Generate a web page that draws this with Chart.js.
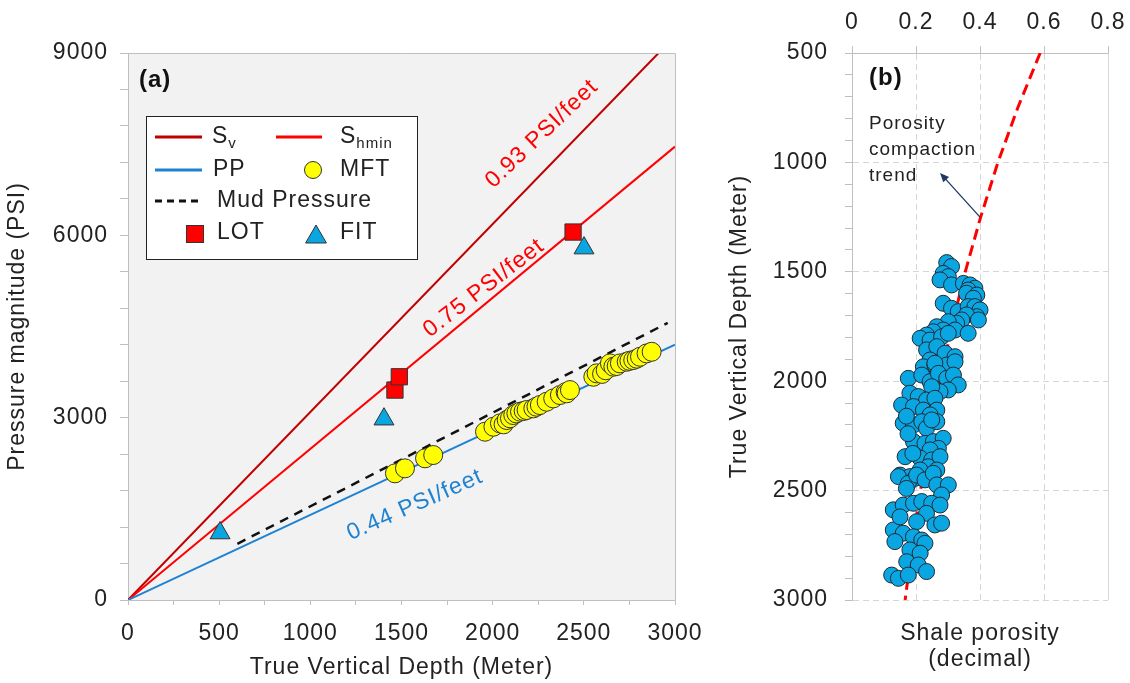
<!DOCTYPE html>
<html>
<head>
<meta charset="utf-8">
<script src="https://cdn.jsdelivr.net/npm/chart.js@4.4.0/dist/chart.umd.min.js"></script>
<style>
  body { margin: 0; background: #fff; }
  #c1 { position: absolute; left: 0; top: 0; }
  #c2 { position: absolute; left: 720px; top: 0; }
</style>
</head>
<body>
<canvas id="c1" width="720" height="683"></canvas>
<canvas id="c2" width="410" height="683"></canvas>
<script>
// ---- panel (a): depth (m) vs pressure (PSI)
const svLine = [[0, 0], [2910, 9000]];
const shminLine = [[0, 0], [3000, 7460]];
const ppLine = [[0, 0], [3000, 4200]];
const mudLine = [[600, 925], [2960, 4560]];

const mftDepth = [1464, 1519, 1629, 1674, 1958, 2004, 2040, 2060, 2077, 2095, 2113, 2130, 2150, 2170, 2186, 2223,
  2240, 2259, 2296, 2332, 2369, 2400, 2406, 2424, 2552, 2570, 2600, 2620, 2643, 2662, 2680, 2698, 2735, 2750,
  2771, 2790, 2808, 2844, 2872];
const mftPressure = [2084, 2166, 2331, 2385, 2769, 2851, 2906, 2890, 2961, 2990, 3043, 3070, 3098, 3110, 3126, 3153,
  3180, 3208, 3262, 3317, 3372, 3420, 3400, 3454, 3673, 3729, 3720, 3780, 3893, 3838, 3850, 3893, 3920, 3935,
  3948, 3970, 4002, 4057, 4084];

const lotDepth = [1464, 1488, 2441];
const lotPressure = [3454, 3673, 6054];
const fitDepth = [505, 1404, 2501];
const fitPressure = [1102, 2975, 5790];

// ---- panel (b): shale porosity vs depth (m)
const trendDepth = [500, 750, 1000, 1250, 1500, 1750, 2000, 2250, 2500, 2750, 3000];
const trendPorosity = [0.588, 0.518, 0.456, 0.402, 0.354, 0.312, 0.275, 0.242, 0.214, 0.188, 0.166];

const shaleDepth = [1458, 1476, 1507, 1522, 1537, 1560, 1553, 1560, 1575, 1583, 1598, 1606, 1621, 1644, 1667, 1682,
  1659, 1659, 1674, 1705, 1697, 1720, 1735, 1720, 1728, 1751, 1766, 1774, 1789, 1804, 1812, 1797, 1766, 1781,
  1781, 1857, 1842, 1872, 1888, 1903, 1934, 1926, 1926,
  1918, 1911, 1987, 1972, 2002, 1964, 1987, 1972, 2017, 2040, 2048, 2025, 2055, 2070, 2086, 2078, 2109, 2116,
  2132, 2132, 2154, 2192, 2200, 2185, 2215, 2185, 2177, 2276, 2284, 2276, 2261, 2307, 2314, 2345, 2352, 2360,
  2345, 2391, 2406, 2406, 2429, 2436, 2444,
  2436, 2467, 2429, 2451, 2421, 2474, 2474, 2520, 2588, 2566, 2558, 2550, 2558, 2566, 2604, 2642, 2657, 2649,
  2680, 2695, 2711, 2726, 2741, 2733, 2771, 2786, 2825, 2840, 2870, 2886, 2901, 2886,
  2240, 2330, 2160, 2490, 2620];
const shalePorosity = [0.296, 0.311, 0.285, 0.301, 0.275, 0.311, 0.348, 0.369, 0.384, 0.363, 0.358, 0.390, 0.379, 0.285, 0.311, 0.332,
  0.363, 0.384, 0.400, 0.390, 0.358, 0.343, 0.327, 0.395, 0.301, 0.265, 0.285, 0.254, 0.233, 0.213, 0.244, 0.280, 0.322, 0.363,
  0.301, 0.233, 0.265, 0.291, 0.322, 0.244, 0.223, 0.259, 0.296,
  0.259, 0.322, 0.176, 0.218, 0.244, 0.270, 0.296, 0.317, 0.332, 0.301, 0.275, 0.249, 0.181, 0.207, 0.233, 0.259, 0.155, 0.192,
  0.223, 0.265, 0.244, 0.160, 0.192, 0.218, 0.233, 0.265, 0.249, 0.192, 0.228, 0.254, 0.285, 0.270, 0.244, 0.166, 0.213, 0.249,
  0.275, 0.238, 0.265, 0.213, 0.150, 0.181, 0.197,
  0.145, 0.176, 0.202, 0.228, 0.254, 0.265, 0.301, 0.280, 0.129, 0.160, 0.192, 0.218, 0.249, 0.275, 0.233, 0.202, 0.259, 0.280,
  0.129, 0.160, 0.192, 0.218, 0.228, 0.134, 0.181, 0.213, 0.171, 0.207, 0.233, 0.124, 0.145, 0.176,
  0.175, 0.190, 0.170, 0.170, 0.150];

const xyPairs = (xs, ys) => xs.map((x, i) => ({x: x, y: ys[i]}));
const linePts = pts => pts.map(p => ({x: p[0], y: p[1]}));

const DARK_RED = '#c00000';
const RED = '#ff0000';
const BLUE = '#1e82d2';
const CYAN = '#0aa6e2';
const TEXT = '#222';
const AXIS = '#bfbfbf';

Chart.defaults.font.family = "'Liberation Sans', Arial, sans-serif";
Chart.defaults.color = TEXT;

function drawTriangle(ctx, cx, cy, r) {
  ctx.beginPath();
  ctx.moveTo(cx, cy - r);
  ctx.lineTo(cx + r * 0.866, cy + r * 0.5);
  ctx.lineTo(cx - r * 0.866, cy + r * 0.5);
  ctx.closePath();
  ctx.fill();
  ctx.stroke();
}

const panelA = {
  id: 'panelA',
  beforeDraw(chart) {
    const {ctx, chartArea: a} = chart;
    ctx.save();
    ctx.fillStyle = '#f2f2f2';
    ctx.fillRect(a.left, a.top, a.right - a.left, a.bottom - a.top);
    ctx.restore();
    ctx.letterSpacing = '1px';
  },
  afterDraw(chart) {
    const {ctx, chartArea: a, scales: {x, y}} = chart;
    ctx.save();
    // top + right frame
    ctx.strokeStyle = AXIS;
    ctx.lineWidth = 1;
    ctx.beginPath();
    ctx.moveTo(a.left, a.top + 0.5);
    ctx.lineTo(a.right + 0.5, a.top + 0.5);
    ctx.lineTo(a.right + 0.5, a.bottom);
    ctx.stroke();

    // gradient labels along lines
    const notes = [
      {text: '0.93 PSI/feet', at: [2270, 7670], line: svLine, color: RED},
      {text: '0.75 PSI/feet', at: [1952, 5133], line: shminLine, color: RED},
      {text: '0.44 PSI/feet', at: [1574, 1563], line: ppLine, color: BLUE}
    ];
    ctx.font = "23px 'Liberation Sans', Arial, sans-serif";
    ctx.textAlign = 'center';
    ctx.textBaseline = 'middle';
    notes.forEach(n => {
      const x0 = x.getPixelForValue(n.line[0][0]), y0 = y.getPixelForValue(n.line[0][1]);
      const x1 = x.getPixelForValue(n.line[1][0]), y1 = y.getPixelForValue(n.line[1][1]);
      ctx.save();
      ctx.translate(x.getPixelForValue(n.at[0]), y.getPixelForValue(n.at[1]));
      ctx.rotate(Math.atan2(y1 - y0, x1 - x0) * 0.95);
      ctx.fillStyle = n.color;
      ctx.fillText(n.text, 0, 0);
      ctx.restore();
    });

    // panel tag
    ctx.textAlign = 'left';
    ctx.fillStyle = '#111';
    ctx.font = "bold 24px 'Liberation Sans', Arial, sans-serif";
    ctx.fillText('(a)', 139, 80);

    // legend
    ctx.fillStyle = '#fff';
    ctx.fillRect(146, 116, 271, 143);
    ctx.strokeStyle = '#222';
    ctx.strokeRect(146.5, 116.5, 271, 143);

    const seg = (x0, x1, yy, color, dash) => {
      ctx.save();
      ctx.strokeStyle = color;
      ctx.lineWidth = 3;
      ctx.setLineDash(dash || []);
      ctx.beginPath();
      ctx.moveTo(x0, yy);
      ctx.lineTo(x1, yy);
      ctx.stroke();
      ctx.restore();
    };
    const big = "23px 'Liberation Sans', Arial, sans-serif";
    const small = "15px 'Liberation Sans', Arial, sans-serif";
    const label = (t, tx, ty, sub) => {
      ctx.fillStyle = TEXT;
      ctx.font = big;
      ctx.fillText(t, tx, ty);
      if (sub) {
        const w = ctx.measureText(t).width;
        ctx.font = small;
        ctx.fillText(sub, tx + w, ty + 7);
      }
    };

    seg(155, 202, 137, DARK_RED);
    label('S', 212, 137, 'v');
    seg(276, 322, 137, RED);
    label('S', 340, 137, 'hmin');

    seg(155, 202, 170, BLUE);
    label('PP', 213, 170);
    ctx.fillStyle = '#ffff00';
    ctx.strokeStyle = '#333';
    ctx.lineWidth = 1;
    ctx.beginPath();
    ctx.arc(313, 170, 8.5, 0, Math.PI * 2);
    ctx.fill();
    ctx.stroke();
    label('MFT', 340, 170);

    seg(155, 202, 201, '#111', [7, 5]);
    label('Mud Pressure', 217, 201);

    ctx.fillStyle = RED;
    ctx.strokeStyle = '#333';
    ctx.fillRect(186, 225, 17, 17);
    ctx.strokeRect(186.5, 225.5, 17, 17);
    label('LOT', 217, 233);
    ctx.fillStyle = CYAN;
    ctx.strokeStyle = '#333';
    drawTriangle(ctx, 316, 237, 12);
    label('FIT', 340, 233);
    ctx.restore();
  }
};

const panelB = {
  id: 'panelB',
  beforeDraw(chart) {
    chart.ctx.letterSpacing = '1px';
  },
  afterDraw(chart) {
    const {ctx, chartArea: a, scales: {x, y}} = chart;
    ctx.save();
    // solid right edge
    ctx.strokeStyle = '#d6d6d6';
    ctx.lineWidth = 1;
    ctx.beginPath();
    ctx.moveTo(a.right + 0.5, a.top);
    ctx.lineTo(a.right + 0.5, a.bottom);
    ctx.stroke();

    ctx.fillStyle = '#111';
    ctx.font = "bold 24px 'Liberation Sans', Arial, sans-serif";
    ctx.textBaseline = 'middle';
    ctx.fillText('(b)', 149, 78);

    ctx.fillStyle = TEXT;
    ctx.font = "19px 'Liberation Sans', Arial, sans-serif";
    ['Porosity', 'compaction', 'trend'].forEach((t, i) => ctx.fillText(t, 149, 124 + i * 26));

    // arrow from the trend curve to the note
    const tx = x.getPixelForValue(0.4), ty = y.getPixelForValue(1250);
    const hx = x.getPixelForValue(0.275), hy = y.getPixelForValue(1048);
    const ang = Math.atan2(hy - ty, hx - tx);
    ctx.strokeStyle = '#1f3864';
    ctx.fillStyle = '#1f3864';
    ctx.lineWidth = 1.3;
    ctx.beginPath();
    ctx.moveTo(tx, ty);
    ctx.lineTo(hx - Math.cos(ang) * 6, hy - Math.sin(ang) * 6);
    ctx.stroke();
    ctx.beginPath();
    ctx.moveTo(hx, hy);
    ctx.lineTo(hx - Math.cos(ang - 0.4) * 10, hy - Math.sin(ang - 0.4) * 10);
    ctx.lineTo(hx - Math.cos(ang + 0.4) * 10, hy - Math.sin(ang + 0.4) * 10);
    ctx.closePath();
    ctx.fill();
    ctx.restore();
  }
};

new Chart(document.getElementById('c1'), {
  type: 'scatter',
  data: {
    datasets: [
      {label: 'Sv', data: linePts(svLine), showLine: true, pointRadius: 0, borderColor: DARK_RED, borderWidth: 2, order: 6},
      {label: 'Shmin', data: linePts(shminLine), showLine: true, pointRadius: 0, borderColor: RED, borderWidth: 2, order: 5},
      {label: 'PP', data: linePts(ppLine), showLine: true, pointRadius: 0, borderColor: BLUE, borderWidth: 2, order: 4},
      {label: 'Mud Pressure', data: linePts(mudLine), showLine: true, pointRadius: 0, borderColor: '#111',
        borderWidth: 2.5, borderDash: [9, 7], order: 3},
      {label: 'MFT', data: xyPairs(mftDepth, mftPressure), pointStyle: 'circle', pointRadius: 9.5,
        backgroundColor: '#ffff00', borderColor: '#333', borderWidth: 1, order: 2},
      {label: 'LOT', data: xyPairs(lotDepth, lotPressure), pointStyle: 'rect', pointRadius: 11.5,
        backgroundColor: RED, borderColor: '#333', borderWidth: 1, order: 1},
      {label: 'FIT', data: xyPairs(fitDepth, fitPressure), pointStyle: 'triangle', pointRadius: 11.5,
        backgroundColor: CYAN, borderColor: '#333', borderWidth: 1, order: 0}
    ]
  },
  options: {
    responsive: false,
    animation: false,
    devicePixelRatio: 1,
    events: [],
    layout: {padding: {top: 53, right: 45, left: 0, bottom: 0}},
    plugins: {legend: {display: false}, tooltip: {enabled: false}},
    scales: {
      x: {
        type: 'linear', min: 0, max: 3000,
        ticks: {stepSize: 250, autoSkip: false, maxRotation: 0, padding: 15, font: {size: 23}, color: TEXT,
          callback: v => v % 500 === 0 ? v : ''},
        grid: {drawOnChartArea: false, color: AXIS, tickLength: 5},
        border: {color: AXIS},
        title: {display: true, text: 'True Vertical Depth (Meter)', font: {size: 23}, color: TEXT, padding: {top: 0, bottom: 2}},
        afterFit: s => { s.height = 83; s.paddingLeft = 0; s.paddingRight = 0; }
      },
      y: {
        type: 'linear', min: 0, max: 9000,
        ticks: {stepSize: 600, autoSkip: false, padding: 12, font: {size: 23}, color: TEXT,
          callback: v => v % 3000 === 0 ? v : ''},
        grid: {drawOnChartArea: false, color: AXIS, tickLength: 8},
        border: {color: AXIS},
        title: {display: true, text: 'Pressure magnitude (PSI)', font: {size: 23}, color: TEXT, padding: {top: 4, bottom: 2}},
        afterFit: s => { s.width = 128; s.paddingTop = 0; s.paddingBottom = 0; }
      }
    }
  },
  plugins: [panelA]
});

new Chart(document.getElementById('c2'), {
  type: 'scatter',
  data: {
    datasets: [
      {label: 'Porosity compaction trend', data: xyPairs(trendPorosity, trendDepth), showLine: true, pointRadius: 0,
        borderColor: RED, borderWidth: 3, borderDash: [11, 6], xAxisID: 'x', yAxisID: 'y', order: 2},
      {label: 'Shale porosity', data: xyPairs(shalePorosity, shaleDepth), pointStyle: 'circle', pointRadius: 8,
        backgroundColor: CYAN, borderColor: '#1d2a36', borderWidth: 1, xAxisID: 'x', yAxisID: 'y', order: 1}
    ]
  },
  options: {
    responsive: false,
    animation: false,
    devicePixelRatio: 1,
    events: [],
    layout: {padding: {top: 0, right: 22, left: 0, bottom: 0}},
    plugins: {legend: {display: false}, tooltip: {enabled: false}},
    scales: {
      x: {
        type: 'linear', position: 'top', min: 0, max: 0.8,
        ticks: {stepSize: 0.2, padding: 10, maxRotation: 0, font: {size: 23}, color: TEXT,
          callback: v => v === 0 ? '0' : v.toFixed(1)},
        grid: {color: '#d6d6d6', tickColor: AXIS, tickLength: 7},
        border: {color: AXIS, dash: [6, 4]},
        afterFit: s => { s.height = 53; s.paddingLeft = 0; s.paddingRight = 0; }
      },
      y: {
        type: 'linear', reverse: true, min: 500, max: 3000,
        ticks: {stepSize: 100, autoSkip: false, padding: 17, font: {size: 23}, color: TEXT,
          callback: v => v % 500 === 0 ? v : ''},
        grid: {color: c => (c.tick && c.tick.value % 500 === 0) ? '#d6d6d6' : 'rgba(0,0,0,0)', tickColor: AXIS, tickLength: 7},
        border: {color: AXIS, dash: [6, 4]},
        title: {display: true, text: 'True Vertical Depth (Meter)', font: {size: 23}, color: TEXT, padding: {top: 6, bottom: 2}},
        afterFit: s => { s.width = 132; s.paddingTop = 0; s.paddingBottom = 0; }
      },
      xb: {
        axis: 'x', type: 'linear', position: 'bottom', min: 0, max: 0.8,
        ticks: {display: false},
        grid: {display: false},
        border: {display: false},
        title: {display: true, text: ['Shale porosity', '(decimal)'], font: {size: 23, lineHeight: 1.15}, color: TEXT,
          padding: {top: 0, bottom: 10}},
        afterFit: s => { s.height = 83; }
      }
    }
  },
  plugins: [panelB]
});
</script>
</body>
</html>
